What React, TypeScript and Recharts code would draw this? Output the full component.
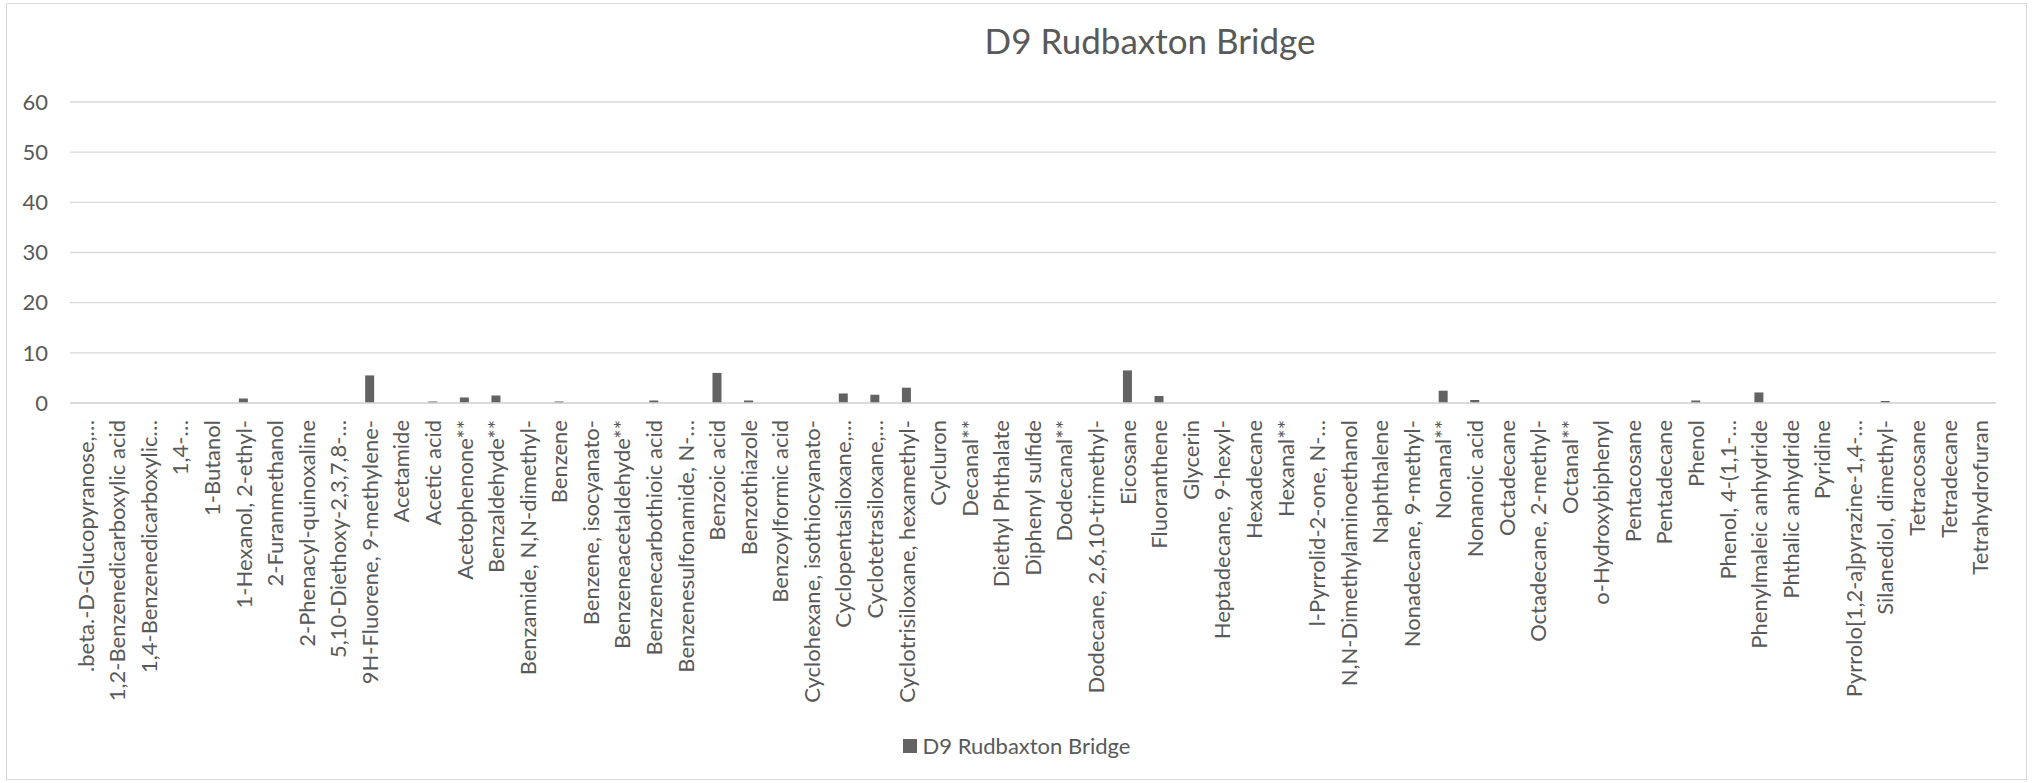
import { BarChart, Bar, XAxis, YAxis, CartesianGrid, Legend } from "recharts";

const compounds = [
  ".beta.-D-Glucopyranose,…",
  "1,2-Benzenedicarboxylic acid",
  "1,4-Benzenedicarboxylic…",
  "1,4-…",
  "1-Butanol",
  "1-Hexanol, 2-ethyl-",
  "2-Furanmethanol",
  "2-Phenacyl-quinoxaline",
  "5,10-Diethoxy-2,3,7,8-…",
  "9H-Fluorene, 9-methylene-",
  "Acetamide",
  "Acetic acid",
  "Acetophenone**",
  "Benzaldehyde**",
  "Benzamide, N,N-dimethyl-",
  "Benzene",
  "Benzene, isocyanato-",
  "Benzeneacetaldehyde**",
  "Benzenecarbothioic acid",
  "Benzenesulfonamide, N-…",
  "Benzoic acid",
  "Benzothiazole",
  "Benzoylformic acid",
  "Cyclohexane, isothiocyanato-",
  "Cyclopentasiloxane,…",
  "Cyclotetrasiloxane,…",
  "Cyclotrisiloxane, hexamethyl-",
  "Cycluron",
  "Decanal**",
  "Diethyl Phthalate",
  "Diphenyl sulfide",
  "Dodecanal**",
  "Dodecane, 2,6,10-trimethyl-",
  "Eicosane",
  "Fluoranthene",
  "Glycerin",
  "Heptadecane, 9-hexyl-",
  "Hexadecane",
  "Hexanal**",
  "l-Pyrrolid-2-one, N-…",
  "N,N-Dimethylaminoethanol",
  "Naphthalene",
  "Nonadecane, 9-methyl-",
  "Nonanal**",
  "Nonanoic acid",
  "Octadecane",
  "Octadecane, 2-methyl-",
  "Octanal**",
  "o-Hydroxybiphenyl",
  "Pentacosane",
  "Pentadecane",
  "Phenol",
  "Phenol, 4-(1,1-…",
  "Phenylmaleic anhydride",
  "Phthalic anhydride",
  "Pyridine",
  "Pyrrolo[1,2-a]pyrazine-1,4-…",
  "Silanediol, dimethyl-",
  "Tetracosane",
  "Tetradecane",
  "Tetrahydrofuran",
];

const rudbaxton = [
  0, 0, 0, 0, 0, 0.9, 0, 0, 0, 5.5,
  0, 0.3, 1.1, 1.5, 0, 0.3, 0, 0, 0.5, 0,
  6.0, 0.5, 0, 0, 1.9, 1.65, 3.05, 0, 0, 0,
  0, 0, 0, 6.5, 1.4, 0, 0, 0, 0, 0,
  0, 0, 0, 2.45, 0.6, 0, 0, 0, 0, 0,
  0, 0.5, 0, 2.1, 0, 0, 0, 0.4, 0, 0,
  0,
];

const yTicks = [0, 10, 20, 30, 40, 50, 60];

const seriesName = "D9 Rudbaxton Bridge";
const font = "Lato, 'Open Sans', sans-serif";
const textColor = "#595959";
const barColor = "#636363";

const data = compounds.map((name, i) => ({ name, value: rudbaxton[i] }));

function CompoundTick({ x, y, payload }: any) {
  return (
    <g transform={`translate(${x},${y})`}>
      <text
        transform="rotate(-90)"
        x={-17}
        y={0}
        dy="0.36em"
        textAnchor="end"
        fill={textColor}
        fontSize={22}
        fontFamily={font}
      >
        {payload.value}
      </text>
    </g>
  );
}

function LegendBox() {
  return (
    <div
      style={{
        display: "flex",
        alignItems: "center",
        justifyContent: "center",
        fontFamily: font,
        fontSize: 22,
        color: textColor,
      }}
    >
      <span
        style={{
          display: "inline-block",
          width: 14,
          height: 14,
          background: barColor,
          marginRight: 6,
        }}
      />
      {seriesName}
    </div>
  );
}

export default function App() {
  return (
    <div style={{ position: "absolute", left: 0, top: 0, width: 2033, height: 783, background: "#fff" }}>
      <div
        style={{
          position: "absolute",
          left: 6,
          top: 3,
          width: 2019,
          height: 775,
          border: "1px solid #d9d9d9",
        }}
      />
      <div
        style={{
          position: "absolute",
          left: 1150 - 300,
          width: 600,
          top: 18,
          textAlign: "center",
          fontFamily: font,
          fontSize: 35,
          lineHeight: "44px",
          color: textColor,
        }}
      >
        {seriesName}
      </div>
      <BarChart
        width={2033}
        height={783}
        data={data}
        margin={{ top: 102, right: 37, left: 10, bottom: 80 }}
        barSize={9}
        style={{ position: "absolute", left: 0, top: 0 }}
      >
        <CartesianGrid vertical={false} stroke="#d9d9d9" strokeWidth={1.3} />
        <XAxis
          dataKey="name"
          interval={0}
          height={300}
          tickLine={false}
          tickSize={0}
          tickMargin={0}
          axisLine={{ stroke: "#d9d9d9", strokeWidth: 1.3 }}
          tick={<CompoundTick />}
        />
        <YAxis
          domain={[0, 60]}
          ticks={yTicks}
          width={60}
          axisLine={false}
          tickLine={false}
          tickSize={0}
          tickMargin={22}
          tick={{ fill: textColor, fontSize: 22, fontFamily: font }}
        />
        <Legend
          layout="horizontal"
          verticalAlign="middle"
          align="center"
          wrapperStyle={{ top: 732, left: 0, width: 2033 }}
          content={() => <LegendBox />}
        />
        <Bar dataKey="value" name={seriesName} fill={barColor} isAnimationActive={false} />
      </BarChart>
    </div>
  );
}
